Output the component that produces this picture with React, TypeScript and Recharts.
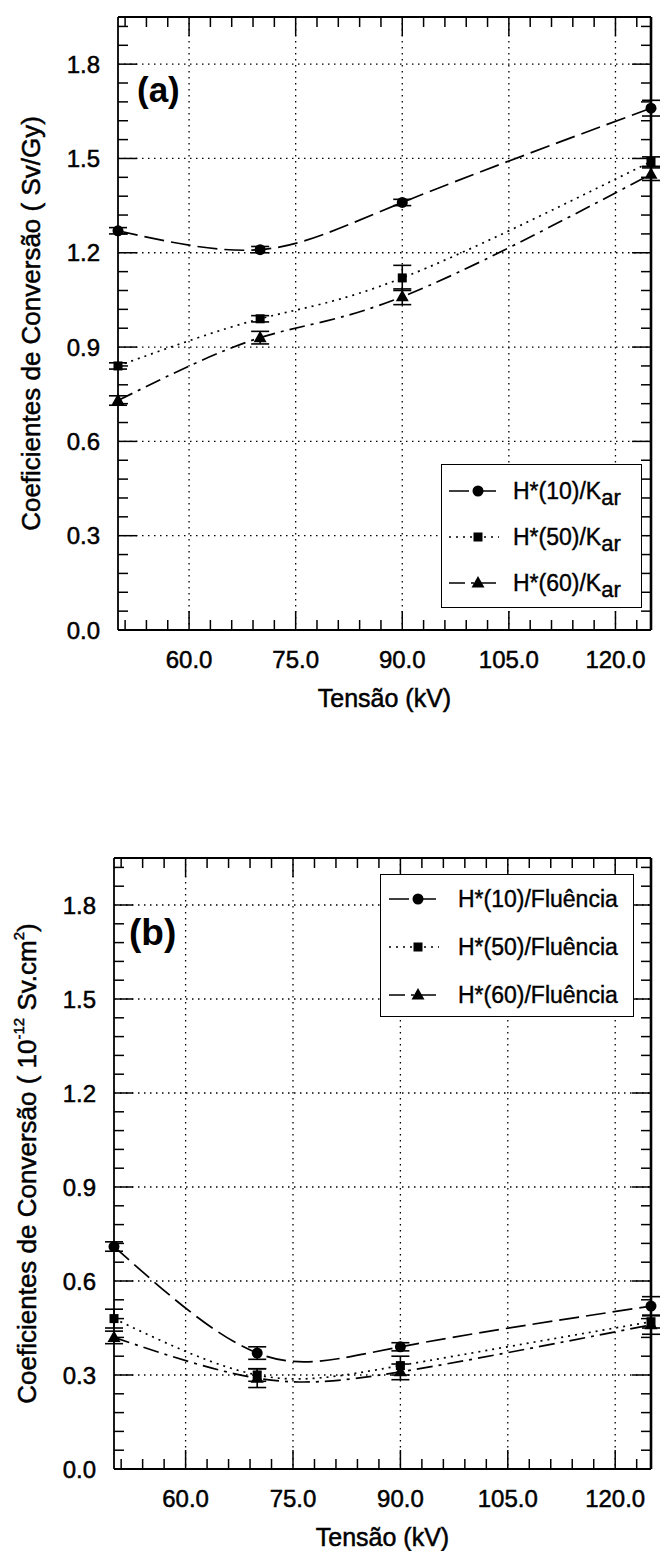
import React from "react";
import { LineChart, Line, XAxis, YAxis, CartesianGrid, ErrorBar, Legend, ReferenceLine } from "recharts";

// tensão do tubo (kV)
const kv = [50, 70, 90, 125];

// (a) coeficientes H*(d)/Kar (Sv/Gy)
const hk10 = [1.27, 1.21, 1.36, 1.66];
const hk50 = [0.84, 0.99, 1.12, 1.49];
const hk60 = [0.73, 0.93, 1.06, 1.45];
const hk10Err = [0.01, 0.01, 0.01, 0.025];
const hk50Err = [0.01, 0.01, 0.04, 0.015];
const hk60Err = [0.015, 0.02, 0.025, 0.02];

// (b) coeficientes H*(d)/Fluência (10^-12 Sv.cm2)
const hf10 = [0.71, 0.37, 0.39, 0.52];
const hf50 = [0.48, 0.3, 0.33, 0.47];
const hf60 = [0.42, 0.29, 0.31, 0.46];
const hf10Err = [0.015, 0.02, 0.013, 0.03];
const hf50Err = [0.03, 0.02, 0.03, 0.02];
const hf60Err = [0.02, 0.03, 0.025, 0.03];

// ticks
const xMajor = [60, 75, 90, 105, 120];
const xTicks = [51, 54, 57, 60, 63, 66, 69, 72, 75, 78, 81, 84, 87, 90, 93, 96, 99, 102, 105, 108, 111, 114, 117, 120, 123];
const yMajor = [0, 0.3, 0.6, 0.9, 1.2, 1.5, 1.8];
const yTicks = [
  0, 0.06, 0.12, 0.18, 0.24, 0.3, 0.36, 0.42, 0.48, 0.54, 0.6, 0.66, 0.72, 0.78, 0.84, 0.9, 0.96, 1.02, 1.08, 1.14,
  1.2, 1.26, 1.32, 1.38, 1.44, 1.5, 1.56, 1.62, 1.68, 1.74, 1.8, 1.86, 1.92,
];
const xMax = 125;
const yMax = 1.95;

const legendA = ["H*(10)/K", "H*(50)/K", "H*(60)/K"];
const legendB = ["H*(10)/Fluência", "H*(50)/Fluência", "H*(60)/Fluência"];

const FONT = "'Liberation Sans', Arial, sans-serif";
const W = 660;

const dataA = kv.map((v, i) => ({ kv: v, s10: hk10[i], s50: hk50[i], s60: hk60[i], e10: hk10Err[i], e50: hk50Err[i], e60: hk60Err[i] }));
const dataB = kv.map((v, i) => ({ kv: v, s10: hf10[i], s50: hf50[i], s60: hf60[i], e10: hf10Err[i], e50: hf50Err[i], e60: hf60Err[i] }));

const series = [
  { key: "s10", err: "e10", shape: "circle", dash: "20 7" },
  { key: "s50", err: "e50", shape: "square", dash: "2 5" },
  { key: "s60", err: "e60", shape: "triangle", dash: "16 6 3 6" },
];

const Marker = ({ cx, cy, shape }: any) => {
  if (cx == null || cy == null) return null;
  if (shape === "circle") return <circle cx={cx} cy={cy} r={5.5} fill="#000" />;
  if (shape === "square") return <rect x={cx - 4.5} y={cy - 4.5} width={9} height={9} fill="#000" />;
  return <polygon points={`${cx},${cy - 7} ${cx - 6.5},${cy + 4.5} ${cx + 6.5},${cy + 4.5}`} fill="#000" />;
};

const textStyle = { fontSize: 24, fontFamily: FONT, fill: "#000", stroke: "#000", strokeWidth: 0.5 };

// marcas internas (maiores e menores), espelhadas no lado oposto do quadro
const makeTick = (side: string, majors: number[], mirror: number) => (p: any) => {
  const { x, y, payload } = p;
  const v = payload.value;
  const major = majors.some((m) => Math.abs(m - v) < 1e-6);
  const len = major ? 19 : 10;
  if (side === "bottom") {
    return (
      <g key={`b-${v}`}>
        <line x1={x} y1={y} x2={x} y2={y - len} stroke="#000" strokeWidth={1.5} />
        <line x1={x} y1={mirror} x2={x} y2={mirror + len} stroke="#000" strokeWidth={1.5} />
        {major && (
          <text x={x} y={y + 29} textAnchor="middle" dominantBaseline="central" {...textStyle}>
            {v.toFixed(1)}
          </text>
        )}
      </g>
    );
  }
  return (
    <g key={`l-${v}`}>
      <line x1={x} y1={y} x2={x + len} y2={y} stroke="#000" strokeWidth={1.5} />
      <line x1={mirror} y1={y} x2={mirror - len} y2={y} stroke="#000" strokeWidth={1.5} />
      {major && (
        <text x={x - 18} y={y} textAnchor="end" dominantBaseline="central" {...textStyle}>
          {v.toFixed(1)}
        </text>
      )}
    </g>
  );
};

const LegendBox = ({ names, sub, box, sampleX, textX, rowH, padTop, fontSize }: any) => (
  <div
    style={{
      boxSizing: "border-box",
      width: box.w,
      height: box.h,
      border: "1.5px solid #000",
      background: "#fff",
      paddingTop: padTop,
      fontFamily: FONT,
    }}
  >
    {series.map((s, i) => (
      <div key={s.key} style={{ position: "relative", height: rowH }}>
        <svg width={60} height={rowH} style={{ position: "absolute", left: sampleX, top: 0 }}>
          <line x1={0} y1={rowH / 2} x2={50} y2={rowH / 2} stroke="#000" strokeWidth={1.5} strokeDasharray={s.dash} />
          <Marker cx={29} cy={rowH / 2} shape={s.shape} />
        </svg>
        <span
          style={{
            position: "absolute",
            left: textX,
            top: 0,
            lineHeight: `${rowH}px`,
            fontSize,
            whiteSpace: "nowrap",
            WebkitTextStroke: "0.4px #000",
          }}
        >
          {names[i]}
          {sub && <sub style={{ fontSize: fontSize - 1, verticalAlign: "-6px" }}>{sub}</sub>}
        </span>
      </div>
    ))}
  </div>
);

const Panel = ({ top, height, margin, yWidth, xHeight, data, yTitle, legend, tag }: any) => (
  <div style={{ position: "absolute", left: 0, top, width: W, height }}>
    <LineChart width={W} height={height} data={data} margin={margin}>
      <CartesianGrid
        xAxisId="b"
        yAxisId="l"
        stroke="#000"
        strokeWidth={1.3}
        strokeDasharray="1.5 4.5"
        horizontalValues={yMajor.filter((v) => v > 0)}
        verticalValues={xMajor}
      />
      <XAxis
        xAxisId="b"
        dataKey="kv"
        type="number"
        domain={[50, xMax]}
        ticks={xTicks}
        interval={0}
        height={xHeight}
        tickSize={0}
        tickMargin={0}
        tickLine={false}
        axisLine={{ stroke: "#000", strokeWidth: 1.8 }}
        tick={makeTick("bottom", xMajor, margin.top)}
        label={(p: any) => (
          <text
            x={p.viewBox.x + p.viewBox.width / 2}
            y={p.viewBox.y + 68}
            textAnchor="middle"
            dominantBaseline="central"
            {...textStyle}
            fontSize={25}
          >
            Tensão (kV)
          </text>
        )}
      />
      <YAxis
        yAxisId="l"
        type="number"
        domain={[0, yMax]}
        ticks={yTicks}
        interval={0}
        width={yWidth}
        tickSize={0}
        tickMargin={0}
        tickLine={false}
        axisLine={{ stroke: "#000", strokeWidth: 1.8 }}
        tick={makeTick("left", yMajor, W - margin.right)}
        label={(p: any) => {
          const cx = p.viewBox.x + p.viewBox.width - 87;
          const cy = p.viewBox.y + p.viewBox.height / 2;
          return (
            <text
              x={cx}
              y={cy}
              transform={`rotate(-90 ${cx} ${cy})`}
              textAnchor="middle"
              dominantBaseline="central"
              {...textStyle}
              fontSize={26}
            >
              {yTitle}
            </text>
          );
        }}
      />
      <ReferenceLine xAxisId="b" yAxisId="l" y={yMax} stroke="#000" strokeWidth={1.8} />
      <ReferenceLine xAxisId="b" yAxisId="l" x={xMax} stroke="#000" strokeWidth={2.6} />
      {series.map((s) => (
        <Line
          key={s.key}
          xAxisId="b"
          yAxisId="l"
          type="natural"
          dataKey={s.key}
          stroke="#000"
          strokeWidth={1.7}
          strokeDasharray={s.dash}
          isAnimationActive={false}
          dot={(p: any) => <Marker key={`${s.key}-${p.index}`} cx={p.cx} cy={p.cy} shape={s.shape} />}
          activeDot={false}
        >
          <ErrorBar dataKey={s.err} direction="y" width={9} stroke="#000" strokeWidth={1.6} isAnimationActive={false} />
        </Line>
      ))}
      <Legend
        layout="vertical"
        align="center"
        verticalAlign="middle"
        wrapperStyle={{ left: legend.box.x, top: legend.box.y, width: legend.box.w, height: legend.box.h }}
        content={() => <LegendBox {...legend} />}
      />
    </LineChart>
    <div
      style={{
        position: "absolute",
        left: tag.x,
        top: tag.y,
        fontFamily: FONT,
        fontWeight: "bold",
        fontSize: tag.size,
        lineHeight: 1,
      }}
    >
      {tag.text}
    </div>
  </div>
);

const titleB = (
  <>
    Coeficientes de Conversão ( 10
    <tspan dy={-9} fontSize={15}>
      -12
    </tspan>
    <tspan dy={9}> Sv.cm</tspan>
    <tspan dy={-9} fontSize={15}>
      2
    </tspan>
    <tspan dy={9}>)</tspan>
  </>
);

export default function App() {
  return (
    <div style={{ position: "absolute", left: 0, top: 0, width: W, height: 1551, background: "#fff" }}>
      <Panel
        top={0}
        height={730}
        margin={{ top: 17, right: 9, bottom: 0, left: 0 }}
        yWidth={118}
        xHeight={100}
        data={dataA}
        yTitle="Coeficientes de Conversão ( Sv/Gy)"
        legend={{
          names: legendA,
          sub: "ar",
          box: { x: 441, y: 464, w: 201, h: 144 },
          sampleX: 7,
          textX: 71,
          rowH: 46,
          padTop: 3,
          fontSize: 23,
        }}
        tag={{ text: "(a)", x: 137, y: 72, size: 35 }}
      />
      <Panel
        top={800}
        height={751}
        margin={{ top: 58, right: 9, bottom: 0, left: 0 }}
        yWidth={114}
        xHeight={82}
        data={dataB}
        yTitle={titleB}
        legend={{
          names: legendB,
          sub: null,
          box: { x: 380, y: 74, w: 254, h: 143 },
          sampleX: 8,
          textX: 77,
          rowH: 48,
          padTop: 0,
          fontSize: 23,
        }}
        tag={{ text: "(b)", x: 129, y: 114, size: 37 }}
      />
    </div>
  );
}
